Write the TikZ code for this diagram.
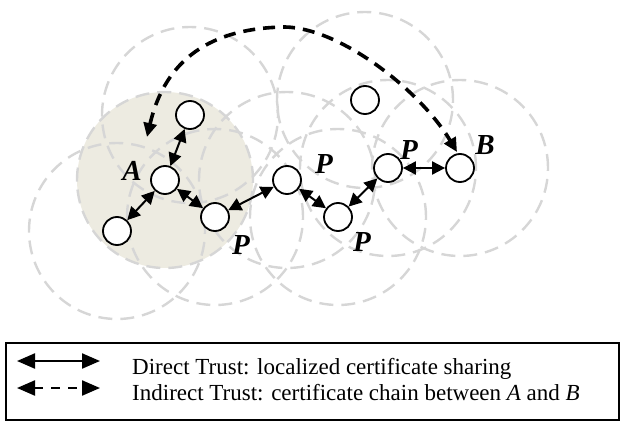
\documentclass[tikz,border=0pt]{standalone}
\usepackage{fontspec}
\setmainfont{Liberation Serif}
\usetikzlibrary{arrows.meta,backgrounds}
\definecolor{rangefill}{RGB}{237,235,225}
\definecolor{rangeline}{RGB}{214,214,214}

\begin{document}
\begin{tikzpicture}[x=1pt,y=-1pt,
    peer/.style={circle,draw,line width=1.8pt,fill=white,minimum size=28pt,inner sep=0pt},
    rangering/.style={draw=rangeline,line width=2.4pt,dash pattern=on 14pt off 8pt},
    lbl/.style={font=\fontsize{29}{29}\selectfont\bfseries\itshape,inner sep=0pt},
    direct/.style={line width=2pt,{Triangle[length=13pt,width=13pt]}-{Triangle[length=13pt,width=13pt]}},
    indirect/.style={line width=3.6pt,dash pattern=on 12pt off 8pt,{Triangle[length=14pt,width=13pt]}-{Triangle[length=14pt,width=13pt]}},
    legdirect/.style={line width=2.2pt,{Triangle[length=18pt,width=15pt]}-{Triangle[length=18pt,width=15pt]}},
    legindirect/.style={legdirect,dash pattern=on 9pt off 8pt},
    legtxt/.style={anchor=base west,font=\fontsize{23}{23}\selectfont,inner sep=0pt}]
  \useasboundingbox (0,0) rectangle (621,423);

  \node[peer] (a)  at (165,180) {};
  \node[peer] (n1) at (190,115) {};
  \node[peer] (n2) at (117,231) {};
  \node[peer] (n3) at (365,100) {};
  \node[peer] (p1) at (215,217) {};
  \node[peer] (p2) at (287,180) {};
  \node[peer] (p3) at (338,217) {};
  \node[peer] (p4) at (388,168) {};
  \node[peer] (b)  at (460,168) {};

  \begin{scope}[on background layer]
    \fill[rangefill] (a) circle[radius=88pt];
    \foreach \n in {a,n1,n2,n3,p1,p2,p3,p4,b}
      \draw[rangering] (\n) circle[radius=88pt];
  \end{scope}

  \node[lbl] (la)  at (132,171) {A};
  \node[lbl] (lp1) at (241,245) {P};
  \node[lbl] (lp2) at (324,164) {P};
  \node[lbl] (lp3) at (362,242) {P};
  \node[lbl] (lp4) at (409,150) {P};
  \node[lbl] (lb)  at (485,145) {B};

  \draw[direct] (a) -- (n1);
  \draw[direct] (a) -- (n2);
  \draw[direct] (a) -- (p1);
  \draw[direct] (p1) -- (p2);
  \draw[direct] (p2) -- (p3);
  \draw[direct] (p3) -- (p4);
  \draw[direct] (p4) -- (b);

  \coordinate (ta) at (147,137);
  \coordinate (tb) at (457,152);
  \draw[indirect] (ta) .. controls (165,60) and (210,28) .. (285,27)
                       .. controls (340,28) and (420,90) .. (tb);

  \node[draw,line width=1.8pt,minimum width=613pt,minimum height=77pt,inner sep=0pt] (legend) at (312.5,381.5) {};
  \coordinate (s1) at (17,361);
  \coordinate (e1) at (100,361);
  \coordinate (s2) at (17,388);
  \coordinate (e2) at (100,388);
  \draw[legdirect] (s1) -- (e1);
  \draw[legindirect] (s2) -- (e2);
  \node[legtxt] (t1) at (132,374) {Direct Trust: localized certificate sharing};
  \node[legtxt] (t2) at (132,400) {Indirect Trust: certificate chain between \textit{A} and \textit{B}};
\end{tikzpicture}
\end{document}
